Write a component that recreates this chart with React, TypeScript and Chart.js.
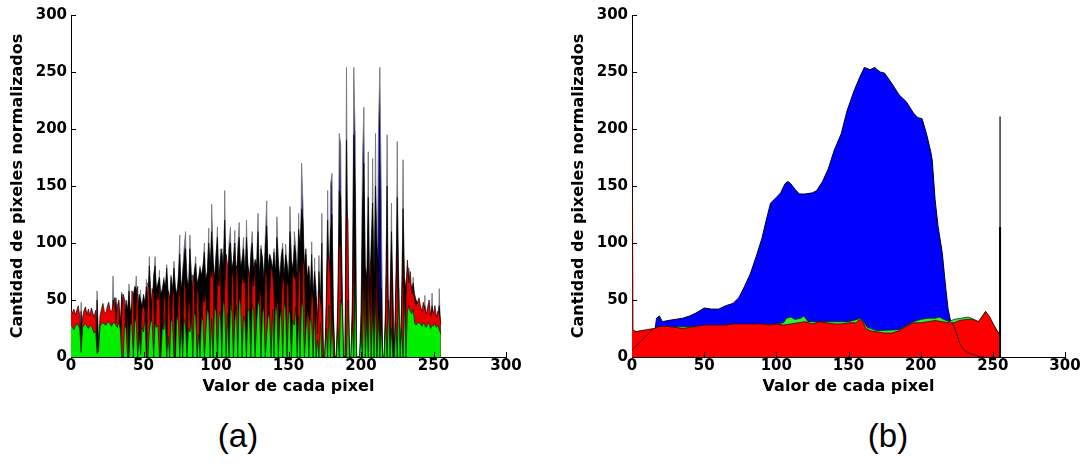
import React, { useEffect, useRef } from 'react';
import { Chart, registerables } from 'chart.js';
Chart.register(...registerables);

// ---------- (a) histogram, bins 0..255 ----------
const bins = Array.from({ length: 256 }, (_, i) => i);

const aBlue = [
  3,2,3,0,0,0,0,48,0,0,
  0,0,0,0,0,0,0,0,58,5,
  0,0,0,0,0,0,0,0,0,71,
  0,40,0,0,0,57,0,30,0,0,
  64,0,35,0,45,71,0,40,59,0,
  52,0,68,0,88,30,0,60,88,0,
  55,76,0,50,70,0,81,45,0,72,
  0,84,48,0,66,107,0,75,95,110,
  0,0,107,60,0,72,88,0,65,80,
  0,75,100,0,70,113,0,134,90,0,
  85,114,0,95,78,0,146,60,0,100,
  114,0,82,111,0,95,118,0,85,105,
  0,120,70,0,92,110,0,86,75,126,
  0,98,80,0,105,137,0,90,85,0,
  95,0,123,78,0,88,100,0,99,80,
  0,132,85,0,110,96,0,126,0,170,
  133,0,90,0,78,0,101,0,87,0,
  0,89,0,126,0,0,0,146,0,151,
  161,0,0,0,0,196,186,0,0,0,
  254,0,0,0,0,254,192,0,0,0,
  0,171,219,0,0,180,0,0,174,0,
  196,0,196,254,140,0,0,0,195,0,
  0,135,0,0,0,189,0,0,0,173,
  0,0,0,78,0,0,70,0,0,0,
  0,0,0,0,54,0,0,0,0,56,
  0,0,0,0,60,0,
];

const aBlack = [
  0,0,0,0,0,0,0,40,0,0,
  0,0,0,0,0,0,0,0,50,10,
  0,0,0,0,0,0,0,0,0,50,
  40,52,35,48,30,55,45,38,50,42,
  58,40,45,55,62,60,42,55,50,45,
  55,48,62,50,80,58,45,72,80,60,
  65,70,55,60,68,62,78,58,50,70,
  60,78,62,55,70,90,60,72,85,95,
  70,62,95,72,58,75,82,65,70,78,
  72,80,92,68,75,100,82,110,85,70,
  90,105,70,85,95,80,120,75,68,95,
  100,78,85,100,72,90,105,80,85,95,
  75,105,82,70,88,100,78,85,80,110,
  72,95,88,70,98,115,80,90,85,78,
  92,75,105,85,70,88,95,72,90,82,
  70,110,85,78,98,92,70,112,100,130,
  120,80,95,70,80,60,90,55,75,60,
  30,75,50,100,0,0,50,120,70,110,
  125,40,0,0,50,146,140,70,0,0,
  190,70,0,0,50,195,150,0,0,0,
  40,130,170,80,70,140,60,100,135,70,
  150,100,80,0,60,0,0,50,150,0,
  55,110,60,0,65,140,70,0,50,130,
  70,60,80,70,65,60,65,55,50,48,
  45,40,38,42,45,36,40,45,34,45,
  36,40,33,38,45,28,
];

const aRed = [
  44,38,42,37,41,45,36,6,35,41,
  44,37,42,36,43,39,35,41,8,10,
  36,42,47,40,38,44,48,41,40,45,
  52,30,45,50,0,42,55,50,0,40,
  0,0,58,55,0,47,62,0,20,42,
  45,40,0,65,60,0,60,55,0,58,
  50,62,0,0,55,50,0,58,52,0,
  60,55,0,0,52,62,0,0,68,60,
  0,50,45,0,72,65,0,60,55,0,
  0,52,48,58,0,0,75,70,80,0,
  0,70,62,82,0,0,58,90,80,0,
  0,75,70,0,80,72,0,44,72,65,
  66,0,78,70,0,70,62,82,0,0,
  60,52,0,0,76,70,0,50,80,75,
  55,0,50,45,0,45,72,65,0,66,
  62,0,0,75,70,68,0,80,72,0,
  85,80,0,40,35,30,58,50,0,52,
  20,58,50,40,0,0,35,90,85,70,
  0,30,0,0,40,100,95,0,0,0,
  128,120,0,0,0,110,0,0,0,0,
  0,80,0,70,0,90,0,85,0,60,
  0,90,0,40,0,0,0,40,100,0,
  0,85,0,0,55,95,0,0,40,90,
  0,50,85,65,75,55,60,50,45,48,
  52,45,40,48,42,38,44,50,36,42,
  38,45,35,40,38,30,
];

const aGreen = [
  28,26,24,27,29,28,25,4,26,28,
  29,27,25,27,28,24,21,23,3,5,
  27,29,30,29,28,30,31,29,27,30,
  30,28,26,31,24,0,0,29,25,0,
  0,30,28,0,34,30,0,20,2,26,
  22,35,0,0,22,33,30,0,30,26,
  28,0,0,26,24,35,0,18,0,34,
  30,0,0,36,32,0,30,0,33,28,
  0,25,22,35,0,40,36,0,20,0,
  36,32,0,22,42,38,0,34,0,45,
  40,0,35,40,0,50,44,0,38,0,
  46,40,0,32,45,0,52,46,0,36,
  30,0,42,40,0,46,40,0,30,50,
  44,0,38,44,0,20,38,34,0,42,
  0,46,40,0,34,42,0,48,42,0,
  38,40,0,32,28,44,0,36,0,50,
  44,0,24,42,0,35,30,0,40,0,
  15,0,30,0,0,0,25,0,45,0,
  35,0,0,0,25,0,50,45,0,0,
  0,50,0,0,30,0,65,0,0,0,
  20,0,60,0,35,0,55,0,40,0,
  50,0,35,0,25,0,0,30,0,50,
  0,25,0,0,30,0,60,0,25,0,
  55,0,40,45,40,38,42,30,28,30,
  30,29,27,30,28,26,29,30,25,28,
  27,30,26,28,24,20,
];

// ---------- (b) histogram samples ----------
const bBlueX = [0,16,17,19,21,25,30,35,40,45,50,55,60,65,70,74,78,82,86,90,93,96,100,103,106,108,110,113,116,120,125,128,132,136,140,145,149,154,158,161,165,168,172,175,180,185,190,195,198,201,204,207,208,210,212,215,217,219,221,222,223];
const bBlueY = [22,24,34,36,31,32,33,34,36,39,43,42,42,45,47,52,62,73,88,104,120,135,140,144,152,154,152,147,143,143,144,146,154,165,181,196,216,234,246,254,252,254,250,249,240,230,224,214,210,209,196,180,173,138,115,91,65,42,30,28,0];

const bRedX = [0,0.7,3,6,10,15,20,25,30,35,40,45,50,55,60,65,70,75,80,85,90,95,100,105,110,115,120,125,130,135,140,145,150,155,158,160,162,165,170,175,180,185,190,195,200,205,210,215,220,223,227,232,236,240,243,245,248,251,253,255];
const bRedY = [254,24,22,23,24,25,27,27,26,25,26,27,28,28,28,28,29,29,29,29,29,28,29,28,29,30,31,29,31,30,29,29,30,30,33,31,25,23,22,21,21,23,27,30,30,31,32,31,30,30,32,33,33,31,36,40,35,27,23,19];

const bGreenX = [0,20,100,105,107,110,113,117,119,122,130,150,156,158,160,163,170,185,195,200,205,210,213,216,220,223,228,233,237,240,245,255];
const bGreenY = [20,26,29,30,34,35,33,34,36,31,31,31,33,34,32,26,23,24,31,33,34,34,35,33,31,33,34,35,33,31,40,19];

const bEdgeX = [0,15,18,222,223,225,227,230,234,238,244];
const bEdgeY = [6,25,null,30,27,20,12,6,3,1.5,0];

const bSpikeX = [255,255];
const bSpikeTallY = [0,211];
const bSpikeShortY = [0,114];

const axisTicks = [0,50,100,150,200,250,300];

const pts = (xs: number[], ys: (number | null)[]) => xs.map((x, i) => ({ x, y: ys[i] }));

const FONT = '"DejaVu Sans", "Liberation Sans", sans-serif';

const inwardTicks = {
  id: 'inwardTicks',
  afterDatasetsDraw(chart: any) {
    const { ctx, chartArea, scales } = chart;
    ctx.save();
    ctx.strokeStyle = '#000';
    ctx.lineWidth = 1;
    axisTicks.forEach((v) => {
      if (v === 0) return;
      const px = Math.round(scales.x.getPixelForValue(v)) + 0.5;
      ctx.beginPath();
      ctx.moveTo(px, chartArea.bottom);
      ctx.lineTo(px, chartArea.bottom - 5);
      ctx.stroke();
      const py = Math.round(scales.y.getPixelForValue(v)) + 0.5;
      ctx.beginPath();
      ctx.moveTo(chartArea.left, py);
      ctx.lineTo(chartArea.left + 5, py);
      ctx.stroke();
    });
    ctx.restore();
  },
};

function makeScales() {
  return {
    x: {
      type: 'linear',
      min: 0,
      max: 300,
      afterFit: (s: any) => { s.height = 43; },
      afterBuildTicks: (s: any) => { s.ticks = axisTicks.map((v) => ({ value: v })); },
      ticks: { color: '#000', font: { family: FONT, weight: 'bold', size: 15 }, padding: 0, maxRotation: 0, autoSkip: false },
      grid: { display: false, drawTicks: false },
      border: { display: true, color: '#000', width: 1 },
      title: { display: true, text: 'Valor de cada pixel', color: '#000', font: { family: FONT, weight: 'bold', size: 16 }, padding: { top: 0, bottom: 4 } },
    },
    y: {
      type: 'linear',
      min: 0,
      max: 300,
      afterFit: (s: any) => { s.width = 71; },
      afterBuildTicks: (s: any) => { s.ticks = axisTicks.map((v) => ({ value: v })); },
      ticks: { color: '#000', font: { family: FONT, weight: 'bold', size: 15 }, padding: 4 },
      grid: { display: false, drawTicks: false },
      border: { display: true, color: '#000', width: 1 },
      title: { display: true, text: 'Cantidad de pixeles normalizados', color: '#000', font: { family: FONT, weight: 'bold', size: 16 }, padding: { top: 8, bottom: 0 } },
    },
  };
}

function area(label: string, data: any[], fillColor: string, edge: string, width: number, order: number) {
  return {
    label,
    data,
    fill: 'origin',
    backgroundColor: fillColor,
    borderColor: edge,
    borderWidth: width,
    pointRadius: 0,
    tension: 0,
    order,
  };
}

function line(label: string, data: any[], color: string, width: number, order: number) {
  return {
    label,
    data,
    fill: false,
    borderColor: color,
    backgroundColor: color,
    borderWidth: width,
    pointRadius: 0,
    tension: 0,
    order,
  };
}

function baseOptions(rightPad: number) {
  return {
    responsive: true,
    maintainAspectRatio: false,
    animation: false,
    events: [],
    layout: { padding: { top: 15, right: rightPad, left: 0, bottom: 0 } },
    plugins: { legend: { display: false }, tooltip: { enabled: false } },
    scales: makeScales(),
  };
}

export default function App() {
  const refA = useRef<HTMLCanvasElement>(null);
  const refB = useRef<HTMLCanvasElement>(null);

  useEffect(() => {
    const chartA = new Chart(refA.current as HTMLCanvasElement, {
      type: 'line',
      data: {
        datasets: [
          area('Azul', pts(bins, aBlue), '#000080', '#7a7a7a', 0.9, 4),
          area('Gris', pts(bins, aBlack), '#000000', '#000000', 0.6, 3),
          area('Rojo', pts(bins, aRed), '#e80000', '#200000', 0.7, 2),
          area('Verde', pts(bins, aGreen), '#00f000', '#002000', 0.7, 1),
        ],
      },
      options: baseOptions(34) as any,
      plugins: [inwardTicks],
    } as any);

    const chartB = new Chart(refB.current as HTMLCanvasElement, {
      type: 'line',
      data: {
        datasets: [
          area('Azul', pts(bBlueX, bBlueY), '#0000ff', '#000022', 1, 5),
          area('Verde', pts(bGreenX, bGreenY), '#33ee33', '#003300', 0.8, 4),
          area('Rojo', pts(bRedX, bRedY), '#ff0000', '#330000', 0.8, 3),
          line('Contorno', pts(bEdgeX, bEdgeY), '#222222', 1, 2),
          line('Pico', pts(bSpikeX, bSpikeTallY), '#000000', 1.2, 1),
          line('Pico2', pts(bSpikeX, bSpikeShortY), '#000000', 2, 0),
        ],
      },
      options: baseOptions(26) as any,
      plugins: [inwardTicks],
    } as any);

    return () => {
      chartA.destroy();
      chartB.destroy();
    };
  }, []);

  const caption: React.CSSProperties = {
    position: 'absolute',
    top: 416,
    width: 100,
    height: 40,
    lineHeight: '40px',
    textAlign: 'center',
    fontFamily: '"Liberation Sans", Arial, sans-serif',
    fontSize: 33,
    color: '#000',
  };

  return (
    <div style={{ position: 'fixed', left: 0, top: 0, width: 1091, height: 469, background: '#fff', overflow: 'hidden' }}>
      <div style={{ position: 'absolute', left: 0, top: 0, width: 540, height: 400 }}>
        <canvas ref={refA} />
      </div>
      <div style={{ position: 'absolute', left: 561, top: 0, width: 530, height: 400 }}>
        <canvas ref={refB} />
      </div>
      <div style={{ ...caption, left: 188 }}>(a)</div>
      <div style={{ ...caption, left: 838 }}>(b)</div>
    </div>
  );
}
